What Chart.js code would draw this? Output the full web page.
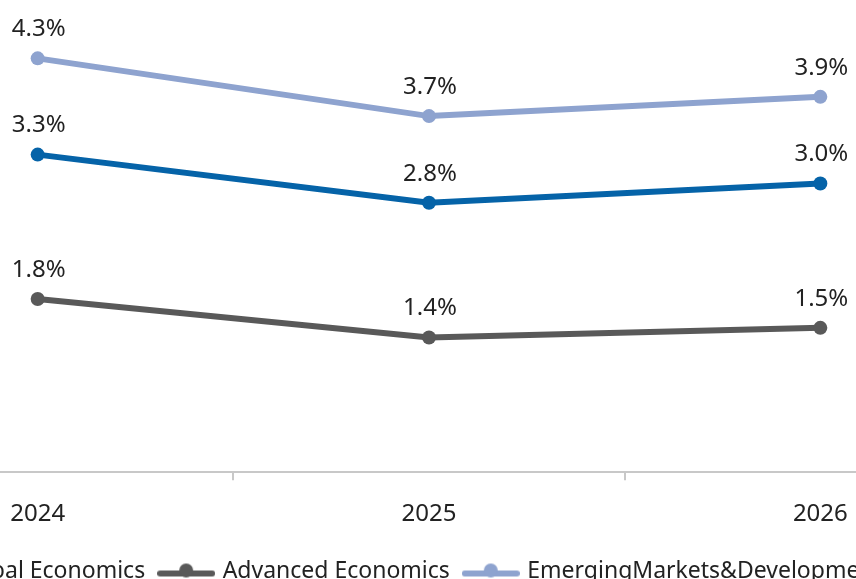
<!DOCTYPE html>
<html>
<head>
<meta charset="utf-8">
<script src="https://cdn.jsdelivr.net/npm/chart.js@4.4.0/dist/chart.umd.min.js"></script>
<style>
html, body { margin: 0; padding: 0; background: #fff; overflow: hidden; width: 856px; height: 579px; }
#wrap { position: absolute; left: -200px; top: -40px; width: 1292px; height: 640px; }
</style>
</head>
<body>
<div id="wrap"><canvas id="chart"></canvas></div>
<script>
var years = ["2024", "2025", "2026"];
var globalGrowth = [3.3, 2.8, 3.0];
var advancedGrowth = [1.8, 1.4, 1.5];
var emergingGrowth = [4.3, 3.7, 3.9];
var seriesNames = ["Global Economics", "Advanced Economics", "EmergingMarkets&DevelopmentEconomics"];
var seriesColors = ["#0563a8", "#595959", "#8ea3cf"];

var FONT = "'Noto Sans', sans-serif";
var TEXT = "#222222";

// little line-with-dot used as the legend symbol
function legendMark(color) {
    var c = document.createElement("canvas");
    c.width = 58;
    c.height = 18;
    var g = c.getContext("2d");
    g.strokeStyle = color;
    g.lineWidth = 6;
    g.lineCap = "round";
    g.beginPath();
    g.moveTo(3, 11);
    g.lineTo(55, 11);
    g.stroke();
    g.fillStyle = color;
    g.beginPath();
    g.arc(29, 8, 7, 0, Math.PI * 2);
    g.fill();
    return c;
}

var valueLabels = {
    id: "valueLabels",
    afterDatasetsDraw: function(chart) {
        var ctx = chart.ctx;
        ctx.save();
        ctx.font = "24px " + FONT;
        ctx.fillStyle = TEXT;
        ctx.textAlign = "center";
        ctx.textBaseline = "middle";
        chart.data.datasets.forEach(function(ds, i) {
            chart.getDatasetMeta(i).data.forEach(function(pt, j) {
                ctx.fillText(ds.data[j].toFixed(1) + "%", pt.x + 1, pt.y - 29);
            });
        });
        ctx.restore();
    }
};

function makeSet(i, values) {
    return {
        label: seriesNames[i],
        data: values,
        borderColor: seriesColors[i],
        backgroundColor: seriesColors[i],
        borderWidth: 6,
        pointRadius: 7,
        pointHoverRadius: 7,
        pointBorderWidth: 0,
        tension: 0
    };
}

new Chart(document.getElementById("chart"), {
    type: "line",
    data: {
        labels: years,
        datasets: [
            makeSet(0, globalGrowth),
            makeSet(1, advancedGrowth),
            makeSet(2, emergingGrowth)
        ]
    },
    options: {
        responsive: true,
        maintainAspectRatio: false,
        animation: false,
        layout: { padding: { top: 31, left: 42, right: 44, bottom: 7 } },
        scales: {
            x: {
                offset: true,
                grid: {
                    display: true,
                    offset: true,
                    drawOnChartArea: false,
                    drawTicks: true,
                    tickLength: 8,
                    color: "#c8c8c8",
                    lineWidth: 2
                },
                border: { display: true, color: "#c8c8c8", width: 2 },
                ticks: { color: TEXT, font: { family: FONT, size: 24 }, padding: 20 },
                afterFit: function(scale) { scale.height -= 5; }
            },
            y: {
                // empty axis on the right, only there to push the plot a bit left of the legend
                position: "right",
                min: 0,
                max: 5,
                grid: { display: false },
                border: { display: false },
                ticks: { display: false },
                afterFit: function(scale) { scale.width = 32; }
            }
        },
        plugins: {
            legend: {
                position: "bottom",
                labels: {
                    usePointStyle: true,
                    pointStyleWidth: 50,
                    padding: 16,
                    color: TEXT,
                    font: { family: FONT, size: 23 },
                    generateLabels: function(chart) {
                        return chart.data.datasets.map(function(ds, i) {
                            return {
                                text: ds.label,
                                fillStyle: seriesColors[i],
                                strokeStyle: seriesColors[i],
                                lineWidth: 0,
                                pointStyle: legendMark(seriesColors[i]),
                                fontColor: TEXT,
                                datasetIndex: i,
                                hidden: false
                            };
                        });
                    }
                }
            },
            tooltip: { enabled: false }
        }
    },
    plugins: [valueLabels]
});
</script>
</body>
</html>
